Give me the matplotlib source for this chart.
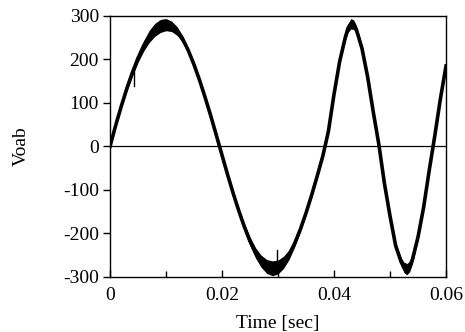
import numpy as np
import matplotlib
matplotlib.use('Agg')
import matplotlib.pyplot as plt
from matplotlib.ticker import MultipleLocator, FuncFormatter

# --- Data (time in s, voltage in V) ---
time_s = [0.000, 0.001, 0.002, 0.003, 0.004, 0.005, 0.006, 0.007, 0.008, 0.009,
          0.010, 0.011, 0.012, 0.013, 0.014, 0.015, 0.016, 0.017, 0.018, 0.019,
          0.020, 0.021, 0.022, 0.023, 0.024, 0.025, 0.026, 0.027, 0.028, 0.029,
          0.030, 0.031, 0.032, 0.033, 0.034, 0.035, 0.036, 0.037, 0.038, 0.039,
          0.040, 0.041, 0.042, 0.0425, 0.043, 0.0435, 0.044, 0.045, 0.046, 0.047,
          0.048, 0.049, 0.050, 0.051, 0.052, 0.0525, 0.053, 0.0535, 0.054, 0.055,
          0.056, 0.057, 0.058, 0.059, 0.060]
voab = [0, 48, 92, 133, 170, 203, 231, 253, 268, 277,
        280, 276, 265, 246, 220, 188, 152, 112, 70, 25,
        -20, -65, -108, -148, -185, -218, -245, -264, -276, -280,
        -277, -266, -248, -222, -190, -153, -112, -68, -22, 35,
        120, 195, 250, 272, 282, 280, 268, 225, 160, 80,
        5, -85, -160, -228, -266, -278, -282, -276, -260, -208,
        -140, -55, 25, 110, 185]
# width of the switching ripple band around the waveform
ripple = [2, 3, 4, 6, 8, 10, 12, 14, 15, 15,
          14, 12, 10, 8, 6, 5, 4, 3, 3, 2,
          2, 3, 4, 6, 8, 10, 12, 14, 16, 17,
          16, 14, 11, 8, 6, 4, 3, 3, 2, 2,
          3, 5, 8, 10, 12, 11, 10, 8, 5, 3,
          2, 3, 5, 8, 10, 12, 13, 12, 10, 7,
          4, 3, 2, 3, 4]
# isolated spikes: (time, from, to)
spike_t = [0.0042, 0.0298]
spike_from = [180, -270]
spike_to = [140, -238]

plt.rcParams['font.family'] = ['Liberation Serif', 'DejaVu Serif']
plt.rcParams['axes.unicode_minus'] = False

fig = plt.figure(figsize=(4.65, 3.32), dpi=100)
ax = fig.add_axes([0.2366, 0.1657, 0.7226, 0.7863])

t = np.array(time_s)
v = np.array(voab)
r = np.array(ripple)

ax.fill_between(t, v - r, v + r, color='black', linewidth=0)
ax.plot(t, v, color='black', linewidth=2.6, solid_joinstyle='round')
for st, sf, so in zip(spike_t, spike_from, spike_to):
    ax.plot([st, st], [sf, so], color='black', linewidth=1.0)

ax.axhline(0, color='black', linewidth=0.9)

ax.set_xlim(0, 0.06)
ax.set_ylim(-300, 300)
ax.xaxis.set_major_locator(MultipleLocator(0.02))
ax.xaxis.set_minor_locator(MultipleLocator(0.01))
ax.yaxis.set_major_locator(MultipleLocator(100))
ax.xaxis.set_major_formatter(FuncFormatter(lambda x, p: '0' if abs(x) < 1e-12 else f'{x:g}'))

ax.tick_params(axis='x', direction='in', length=5, width=1, labelsize=14, pad=7)
ax.tick_params(axis='x', which='minor', direction='in', length=4, width=1)
ax.tick_params(axis='y', direction='out', length=5, width=1, labelsize=14, pad=3)
for s in ax.spines.values():
    s.set_linewidth(1)

ax.set_xlabel('Time [sec]', fontsize=14, labelpad=8)
ax.set_ylabel('Voab', fontsize=14, labelpad=24)

fig.savefig('out.png', dpi=100)
